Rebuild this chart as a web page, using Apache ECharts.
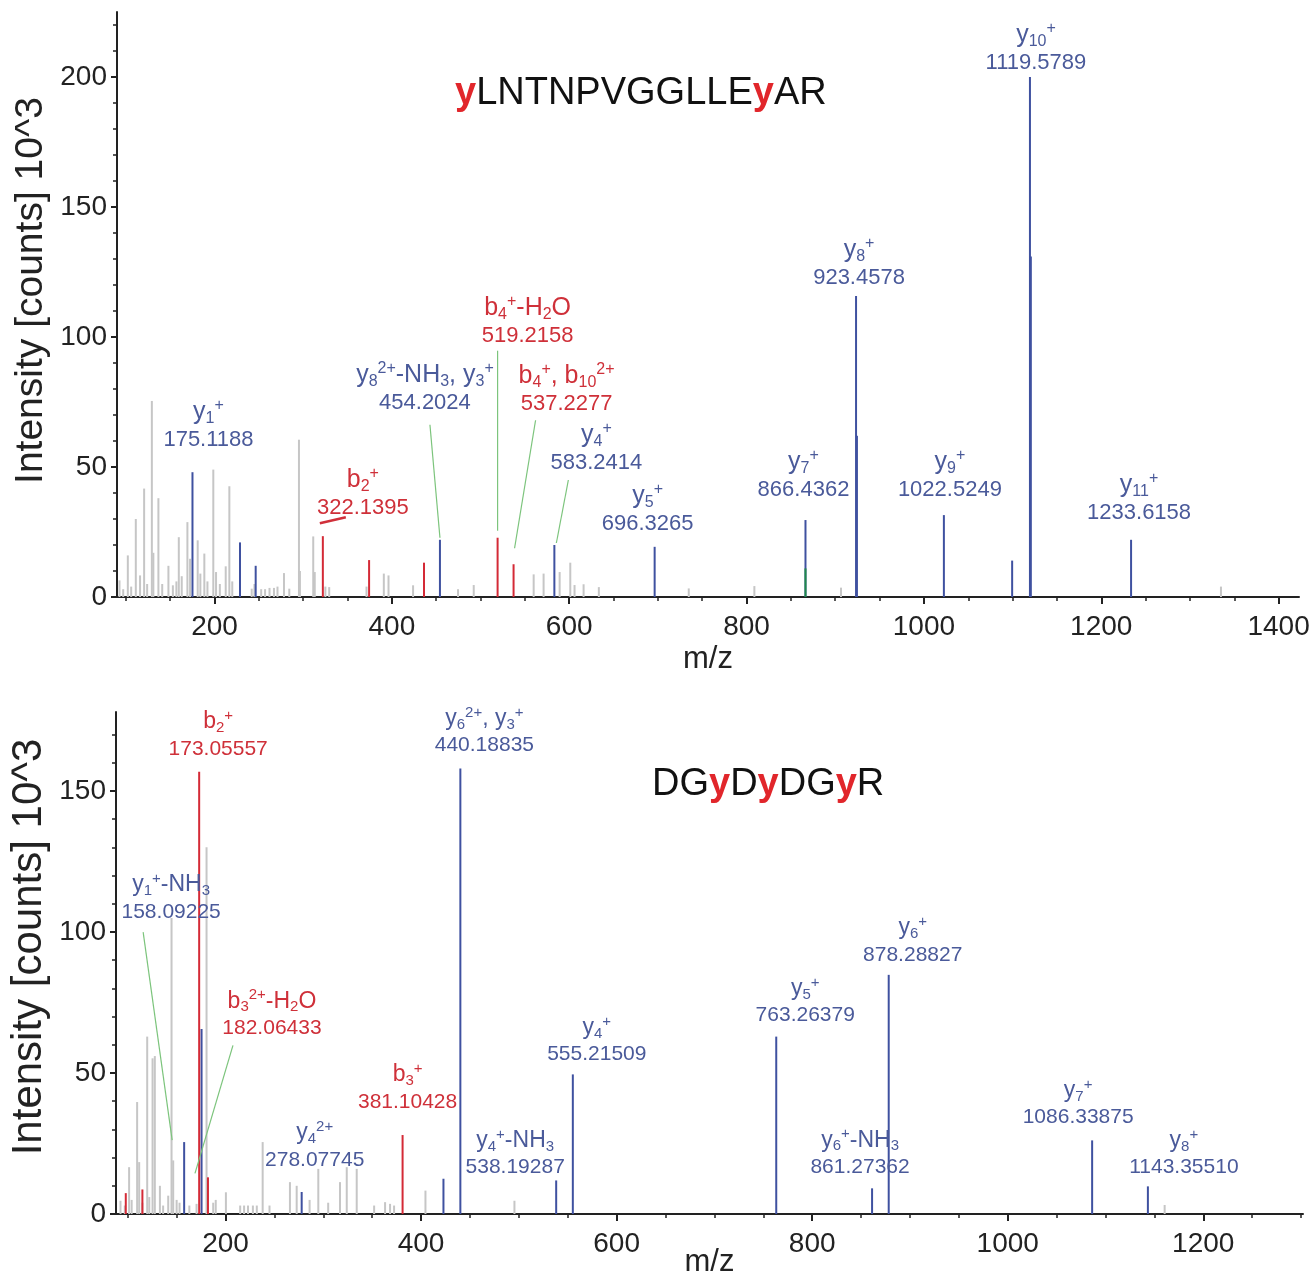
<!DOCTYPE html>
<html><head><meta charset="utf-8">
<script src="https://cdn.jsdelivr.net/npm/echarts@6/dist/echarts.min.js"></script>
<style>html,body{margin:0;padding:0;background:#fff}#c{width:1314px;height:1275px}</style>
</head><body><div id="c"></div>
<script>
// ================= DATA =================
// Top spectrum: yLNTNPVGGLLEyAR   [m/z, intensity (10^3 counts)]
const topTitle = ['y', 'LNTNPVGGLLE', 'y', 'AR'];
const topXTicks = [200, 400, 600, 800, 1000, 1200, 1400];
const topXMinorTicks = [100, 150, 250, 300, 350, 450, 500, 550, 650, 700, 750, 850, 900, 950, 1050, 1100, 1150, 1250, 1300, 1350];
const topYTicks = [0, 50, 100, 150, 200];
const topYMinorTicks = [10, 20, 30, 40, 60, 70, 80, 90, 110, 120, 130, 140, 160, 170, 180, 190, 210, 220];
const topGray = [[92.8,6.4],[97,3],[102.2,16],[106,4],[111.2,30],[116,8.3],[120.6,41.7],[124,5],[129.3,75.4],[131,17],[136.7,38],[141,5],[148,12],[153,4.5],[157,6],[159.7,23],[163,8],[169.4,28.8],[172.4,14.7],[181,21.8],[184,9],[188.5,16.7],[192,6],[198.6,49],[201.7,9.6],[206,5],[212.6,11.8],[216.7,42.6],[220,6],[241.9,3.2],[245,5],[252.6,3],[257,3],[262,3.5],[267,3.5],[271,4],[278.3,9.2],[284.3,3.2],[295.2,60.5],[296.3,10],[311.3,23.3],[313,9.6],[325,4],[329.3,3.8],[371.4,4],[390.9,9],[396.2,8.3],[423.9,4.5],[474.6,3],[492.3,4.6],[559.9,8.7],[571.1,9],[589.2,9.6],[601.2,13.2],[606,4.6],[616.2,4.9],[633.4,3.8],[734.8,3.3],[808.8,4.2],[906.5,3.6],[1335,4]];
const topBlue = [[175.12,48],[228.7,21],[246.4,12],[454.2,22],[583.24,20],[696.33,19.3],[866.44,29.6],[923.46,115.8],[924.46,62],[1022.52,31.5],[1099.5,14],[1119.58,200],[1120.58,131],[1233.62,22]];
const topRed = [[322.14,23.4],[374.3,14.2],[436.2,13.2],[519.22,22.8],[537.23,12.6]];
const topGreen = [[866.44,11]];
// annotations (ion, m/z text, peak m/z, peak intensity, ion type)
const topAnnIon = ['y_1^+', 'y_8^{2+}-NH_3, y_3^+', 'b_2^+', 'b_4^+-H_2O', 'b_4^+, b_{10}^{2+}', 'y_4^+', 'y_5^+', 'y_7^+', 'y_8^+', 'y_9^+', 'y_{10}^+', 'y_{11}^+'];
const topAnnText = ['175.1188', '454.2024', '322.1395', '519.2158', '537.2277', '583.2414', '696.3265', '866.4362', '923.4578', '1022.5249', '1119.5789', '1233.6158'];
const topAnnMz = [175.12, 454.2, 322.14, 519.22, 537.23, 583.24, 696.33, 866.44, 923.46, 1022.52, 1119.58, 1233.62];
const topAnnInt = [48, 22, 23.4, 22.8, 12.6, 20, 19.3, 29.6, 115.8, 31.5, 200, 22];
const topAnnType = ['y', 'y', 'b', 'b', 'b', 'y', 'y', 'y', 'y', 'y', 'y', 'y'];

// Bottom spectrum: DGyDyDGyR
const botTitle = ['DG', 'y', 'D', 'y', 'DG', 'y', 'R'];
const botXTicks = [200, 400, 600, 800, 1000, 1200];
const botXMinorTicks = [100, 150, 250, 300, 350, 450, 500, 550, 650, 700, 750, 850, 900, 950, 1050, 1100, 1150, 1250, 1300];
const botYTicks = [0, 50, 100, 150];
const botYMinorTicks = [10, 20, 30, 40, 60, 70, 80, 90, 110, 120, 130, 140, 160, 170];
const botGray = [[92.6,4.7],[97,3],[101.4,16.6],[104,5],[109.6,39.7],[111.7,18.4],[115,4],[119.9,62.9],[122,6],[125.4,55.2],[127.7,56],[132.9,10],[136.2,3],[141.4,6.5],[144.8,105],[146.5,19],[150,5],[153,4],[163,3],[170.4,3.6],[180.6,130],[187.4,4],[190,5],[200.4,7.7],[215,3],[219,3],[223,3],[228,3],[232,3],[238,25.5],[245,3],[265.9,11.3],[272.8,10],[286,5],[294.9,16],[305,4],[317.1,11.3],[324,16.6],[334.2,16],[352,3],[363.2,4.2],[368.3,3.6],[372.4,3],[404.5,8.3],[495.5,4.7],[1160.5,3.2]];
const botBlue = [[157.7,25.5],[175.5,65.6],[277.9,7.8],[422.9,12.5],[440.19,158],[538.19,11.9],[555.22,49.5],[763.26,62.9],[861.27,9.1],[878.29,84.8],[1086.34,26.1],[1143.36,9.8]];
const botRed = [[98,7.4],[115,8.7],[173.06,156.8],[182.06,13],[381.1,28]];
const botAnnIon = ['b_2^+', 'y_6^{2+}, y_3^+', 'y_1^+-NH_3', 'b_3^{2+}-H_2O', 'b_3^+', 'y_4^{2+}', 'y_4^+-NH_3', 'y_4^+', 'y_5^+', 'y_6^+', 'y_6^+-NH_3', 'y_7^+', 'y_8^+'];
const botAnnText = ['173.05557', '440.18835', '158.09225', '182.06433', '381.10428', '278.07745', '538.19287', '555.21509', '763.26379', '878.28827', '861.27362', '1086.33875', '1143.35510'];
const botAnnMz = [173.06, 440.19, 157.7, 182.06, 381.1, 277.9, 538.19, 555.22, 763.26, 878.29, 861.27, 1086.34, 1143.36];
const botAnnInt = [156.8, 158, 25.5, 13, 28, 7.8, 11.9, 49.5, 62.9, 84.8, 9.1, 26.1, 9.8];
const botAnnType = ['b', 'y', 'y', 'b', 'b', 'y', 'y', 'y', 'y', 'y', 'y', 'y', 'y'];

// ================= LAYOUT / STYLE =================
// label offsets (px) of number-line centre relative to the peak top
const topLabelOffsets = [[16,-32],[-15,-137],[40,-28],[30,-202],[53,-160],[42,-82],[-7,-23],[-2,-30],[3,-18],[6,-25],[6,-14],[8,-27]];
// connectors: [x1,y1,x2,y2,color,width] relative to peak top
const topConnectors = [null,[-10,-115,0,-2],[-3,-13,23,-19,'#d0303a',2.5],[0,-187,0,-7],[22,-144,1,-16],[14,-65,2,-2],null,null,null,null,null,null];
const botLabelOffsets = [[19,-23],[24,-23],[-13,-230],[64,-149],[5,-33],[13,-32],[-41,-13],[24,-20],[29,-21],[24,-20],[-12,-21],[-14,-23],[36,-19]];
const botConnectors = [null,null,[-41,-210,-12,-2],[25,-132,-13,-4],null,null,null,null,null,null,null,null,null];

const BLUE = '#3f51a0', RED = '#d42a36', GRAY = '#c6c6c6', GREEN_PEAK = '#1f8a4a';
const BLUE_TXT = '#4a5a9a', RED_TXT = '#cf3039', GREEN = '#7cc47c', AX = '#222';
const SANS = '"Liberation Sans", Arial, sans-serif';

function toRich(s) {
  let out = '', i = 0, buf = '';
  const flush = () => { if (buf) { out += '{m|' + buf + '}'; buf = ''; } };
  while (i < s.length) {
    const c = s[i];
    if (c === '_' || c === '^') {
      flush();
      let tok;
      if (s[i + 1] === '{') { const j = s.indexOf('}', i); tok = s.slice(i + 2, j); i = j + 1; }
      else { tok = s[i + 1]; i += 2; }
      out += '{' + (c === '_' ? 's' : 'p') + '|' + tok + '}';
    } else { buf += c; i++; }
  }
  flush();
  return out;
}
function richStyles(color, size) {
  const sm = Math.round(size * 0.64);
  return {
    m: { fill: color, fontSize: size, fontFamily: SANS, lineHeight: size + 4 },
    s: { fill: color, fontSize: sm, fontFamily: SANS, lineHeight: sm + 1, verticalAlign: 'bottom' },
    p: { fill: color, fontSize: sm, fontFamily: SANS, lineHeight: sm + 1, verticalAlign: 'top' }
  };
}

function peakSeries(data, color, gi, width, z) {
  return {
    type: 'custom', xAxisIndex: gi * 2, yAxisIndex: gi * 2, z: z, silent: true,
    data: data,
    renderItem: function (params, api) {
      const p0 = api.coord([api.value(0), 0]);
      const p1 = api.coord([api.value(0), api.value(1)]);
      return { type: 'line', shape: { x1: p0[0], y1: p0[1], x2: p1[0], y2: p1[1] },
        style: { stroke: color, lineWidth: width } };
    }
  };
}

function annSeries(gi, mz, ints, ions, texts, types, offsets, connectors, numSize, ionSize, gap) {
  const data = mz.map((m, i) => [m, ints[i]]);
  return {
    type: 'custom', xAxisIndex: gi * 2, yAxisIndex: gi * 2, z: 10, silent: true,
    data: data,
    renderItem: function (params, api) {
      const i = params.dataIndex;
      const pt = api.coord([api.value(0), api.value(1)]);
      const off = offsets[i];
      const cx = pt[0] + off[0], cy = pt[1] + off[1];
      const color = types[i] === 'b' ? RED_TXT : BLUE_TXT;
      const ch = [];
      const con = connectors[i];
      if (con) ch.push({ type: 'line', shape: { x1: pt[0] + con[0], y1: pt[1] + con[1], x2: pt[0] + con[2], y2: pt[1] + con[3] },
        style: { stroke: con[4] || GREEN, lineWidth: con[5] || 1.2 } });
      ch.push({ type: 'text', style: { text: texts[i], x: cx, y: cy, align: 'center', verticalAlign: 'middle',
        fill: color, fontSize: numSize, fontFamily: SANS } });
      ch.push({ type: 'text', style: { text: toRich(ions[i]), rich: richStyles(color, ionSize), x: cx, y: cy - gap,
        align: 'center', verticalAlign: 'middle', fill: color, fontSize: ionSize, fontFamily: SANS } });
      return { type: 'group', children: ch };
    }
  };
}

const fmt = v => String(v);
function xAxes(gi, min, max, ticks, minor, nameGap) {
  return [{
    type: 'value', gridIndex: gi, min: min, max: max, position: 'bottom',
    axisLine: { show: true, onZero: false, lineStyle: { color: AX, width: 2 } },
    axisTick: { show: true, customValues: ticks, length: 7, lineStyle: { color: AX, width: 2 } },
    axisLabel: { show: true, customValues: ticks, formatter: fmt, fontSize: 28, fontFamily: SANS, color: AX, margin: 16 },
    splitLine: { show: false },
    name: 'm/z', nameLocation: 'middle', nameGap: nameGap, nameMoveOverlap: false,
    nameTextStyle: { fontSize: 31, fontFamily: SANS, color: AX }
  }, {
    type: 'value', gridIndex: gi, min: min, max: max, position: 'bottom',
    axisLine: { show: false, onZero: false },
    axisTick: { show: true, customValues: minor, length: 4, lineStyle: { color: AX, width: 1.5 } },
    axisLabel: { show: false }, splitLine: { show: false }
  }];
}
function yAxes(gi, max, ticks, minor, nameGap, nameSize, namePad) {
  return [{
    type: 'value', gridIndex: gi, min: 0, max: max, position: 'left',
    axisLine: { show: true, onZero: false, lineStyle: { color: AX, width: 2 } },
    axisTick: { show: true, customValues: ticks, length: 6, lineStyle: { color: AX, width: 2 } },
    axisLabel: { show: true, customValues: ticks, formatter: fmt, fontSize: 28, fontFamily: SANS, color: AX, margin: 10 },
    splitLine: { show: false },
    name: 'Intensity [counts] 10^3', nameLocation: 'middle', nameGap: nameGap, nameMoveOverlap: false,
    nameTextStyle: { fontSize: nameSize, fontFamily: SANS, color: AX, padding: [0, 0, 0, namePad] }
  }, {
    type: 'value', gridIndex: gi, min: 0, max: max, position: 'left',
    axisLine: { show: false, onZero: false },
    axisTick: { show: true, customValues: minor, length: 4, lineStyle: { color: AX, width: 1.5 } },
    axisLabel: { show: false }, splitLine: { show: false }
  }];
}

function titleRich(parts, redIdx) {
  return parts.map((p, i) => redIdx.indexOf(i) >= 0 ? '{r|' + p + '}' : '{k|' + p + '}').join('');
}
const titleRichStyle = {
  k: { fontSize: 38, fontFamily: SANS, color: '#111', fontWeight: 'normal' },
  r: { fontSize: 38, fontFamily: SANS, color: '#e1262b', fontWeight: 'bold' }
};

const chart = echarts.init(document.getElementById('c'), null, { renderer: 'canvas' });
chart.setOption({
  backgroundColor: '#fff',
  animation: false,
  title: [{
    text: titleRich(topTitle, [0, 2]), left: 450, top: 70,
    textStyle: { fontWeight: 'normal', rich: titleRichStyle }
  }, {
    text: titleRich(botTitle, [1, 3, 5]), left: 647, top: 761,
    textStyle: { fontWeight: 'normal', rich: titleRichStyle }
  }],
  grid: [
    { left: 117, top: 12, width: 1182, height: 585, containLabel: false, outerBoundsMode: 'none' },
    { left: 116, top: 712, width: 1187, height: 502, containLabel: false, outerBoundsMode: 'none' }
  ],
  xAxis: [].concat(xAxes(0, 90, 1423, topXTicks, topXMinorTicks, 47), xAxes(1, 88, 1302, botXTicks, botXMinorTicks, 33)),
  yAxis: [].concat(yAxes(0, 225, topYTicks, topYMinorTicks, 66, 39, 28), yAxes(1, 178, botYTicks, botYMinorTicks, 66, 42, 32)),
  series: [
    peakSeries(topGray, GRAY, 0, 2, 2),
    peakSeries(topBlue, BLUE, 0, 2, 3),
    peakSeries(topRed, RED, 0, 2, 4),
    peakSeries(topGreen, GREEN_PEAK, 0, 2, 5),
    annSeries(0, topAnnMz, topAnnInt, topAnnIon, topAnnText, topAnnType, topLabelOffsets, topConnectors, 22, 25, 28),
    peakSeries(botGray, GRAY, 1, 2, 2),
    peakSeries(botBlue, BLUE, 1, 2, 3),
    peakSeries(botRed, RED, 1, 2, 4),
    annSeries(1, botAnnMz, botAnnInt, botAnnIon, botAnnText, botAnnType, botLabelOffsets, botConnectors, 21, 23, 27)
  ]
});
</script>
</body></html>
